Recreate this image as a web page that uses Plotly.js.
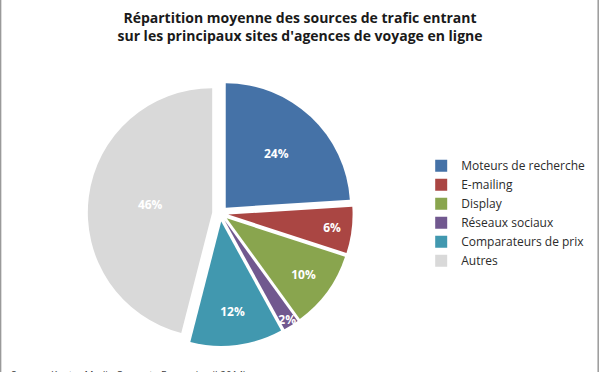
<!DOCTYPE html>
<html>
<head>
<meta charset="utf-8">
<script src="https://cdn.plot.ly/plotly-3.0.1.min.js"></script>
<style>html,body{margin:0;padding:0;background:#fff;}#chart{width:600px;height:372px;}</style>
</head>
<body>
<div id="chart"></div>
<script>
const categories = ["Moteurs de recherche", "E-mailing", "Display", "Réseaux sociaux", "Comparateurs de prix", "Autres"];
const shares = [24, 6, 10, 2, 12, 46];
const colors = ["#4572A7", "#AA4643", "#89A54E", "#71588F", "#4198AF", "#D9D9D9"];
const titleText = "Répartition moyenne des sources de trafic entrant<br>sur les principaux sites d'agences de voyage en ligne";
const sourceText = "Source : Kantar Media Compete France (avril 2014)";

const trace = {
  type: "pie",
  labels: categories,
  values: shares,
  sort: false,
  direction: "clockwise",
  rotation: 0,
  pull: categories.map(() => 0.065),
  marker: {colors: colors, line: {width: 0}},
  texttemplate: "%{value}%",
  textposition: "inside",
  insidetextorientation: "horizontal",
  textfont: {family: "Open Sans, sans-serif", size: 12, color: "#ffffff", weight: "bold"},
  hoverinfo: "label+percent",
  domain: {x: [0.146, 0.588], y: [0.07, 0.782]}
};

const layout = {
  width: 600, height: 372,
  margin: {l: 0, r: 0, t: 0, b: 0},
  paper_bgcolor: "#ffffff",
  title: {
    text: titleText,
    font: {family: "Open Sans, sans-serif", size: 14, color: "#1a1a1a", weight: "bold"},
    x: 0.5, xanchor: "center", xref: "paper", y: 0.938, yanchor: "top", yref: "container"
  },
  uniformtext: {mode: "show", minsize: 12},
  showlegend: true,
  legend: {
    x: 0.702, xanchor: "left", y: 0.427, yanchor: "middle",
    font: {family: "Open Sans, sans-serif", size: 12, color: "#2b2b2b"},
    itemwidth: 30,
    traceorder: "normal"
  },
  annotations: [{
    text: sourceText, xref: "paper", yref: "paper", x: 0.015, y: 0.017,
    xanchor: "left", yanchor: "top", showarrow: false,
    font: {family: "Open Sans, sans-serif", size: 10, color: "#404040"}
  }],
  shapes: [
    {type: "line", xref: "paper", yref: "paper", x0: 0.001, x1: 0.001, y0: 0, y1: 1, line: {color: "#9a9a9a", width: 1.5}},
    {type: "line", xref: "paper", yref: "paper", x0: 0.997, x1: 0.997, y0: 0, y1: 1, line: {color: "#9a9a9a", width: 1.5}}
  ]
};

Plotly.newPlot("chart", [trace], layout, {displayModeBar: false, staticPlot: true});
</script>
</body>
</html>
